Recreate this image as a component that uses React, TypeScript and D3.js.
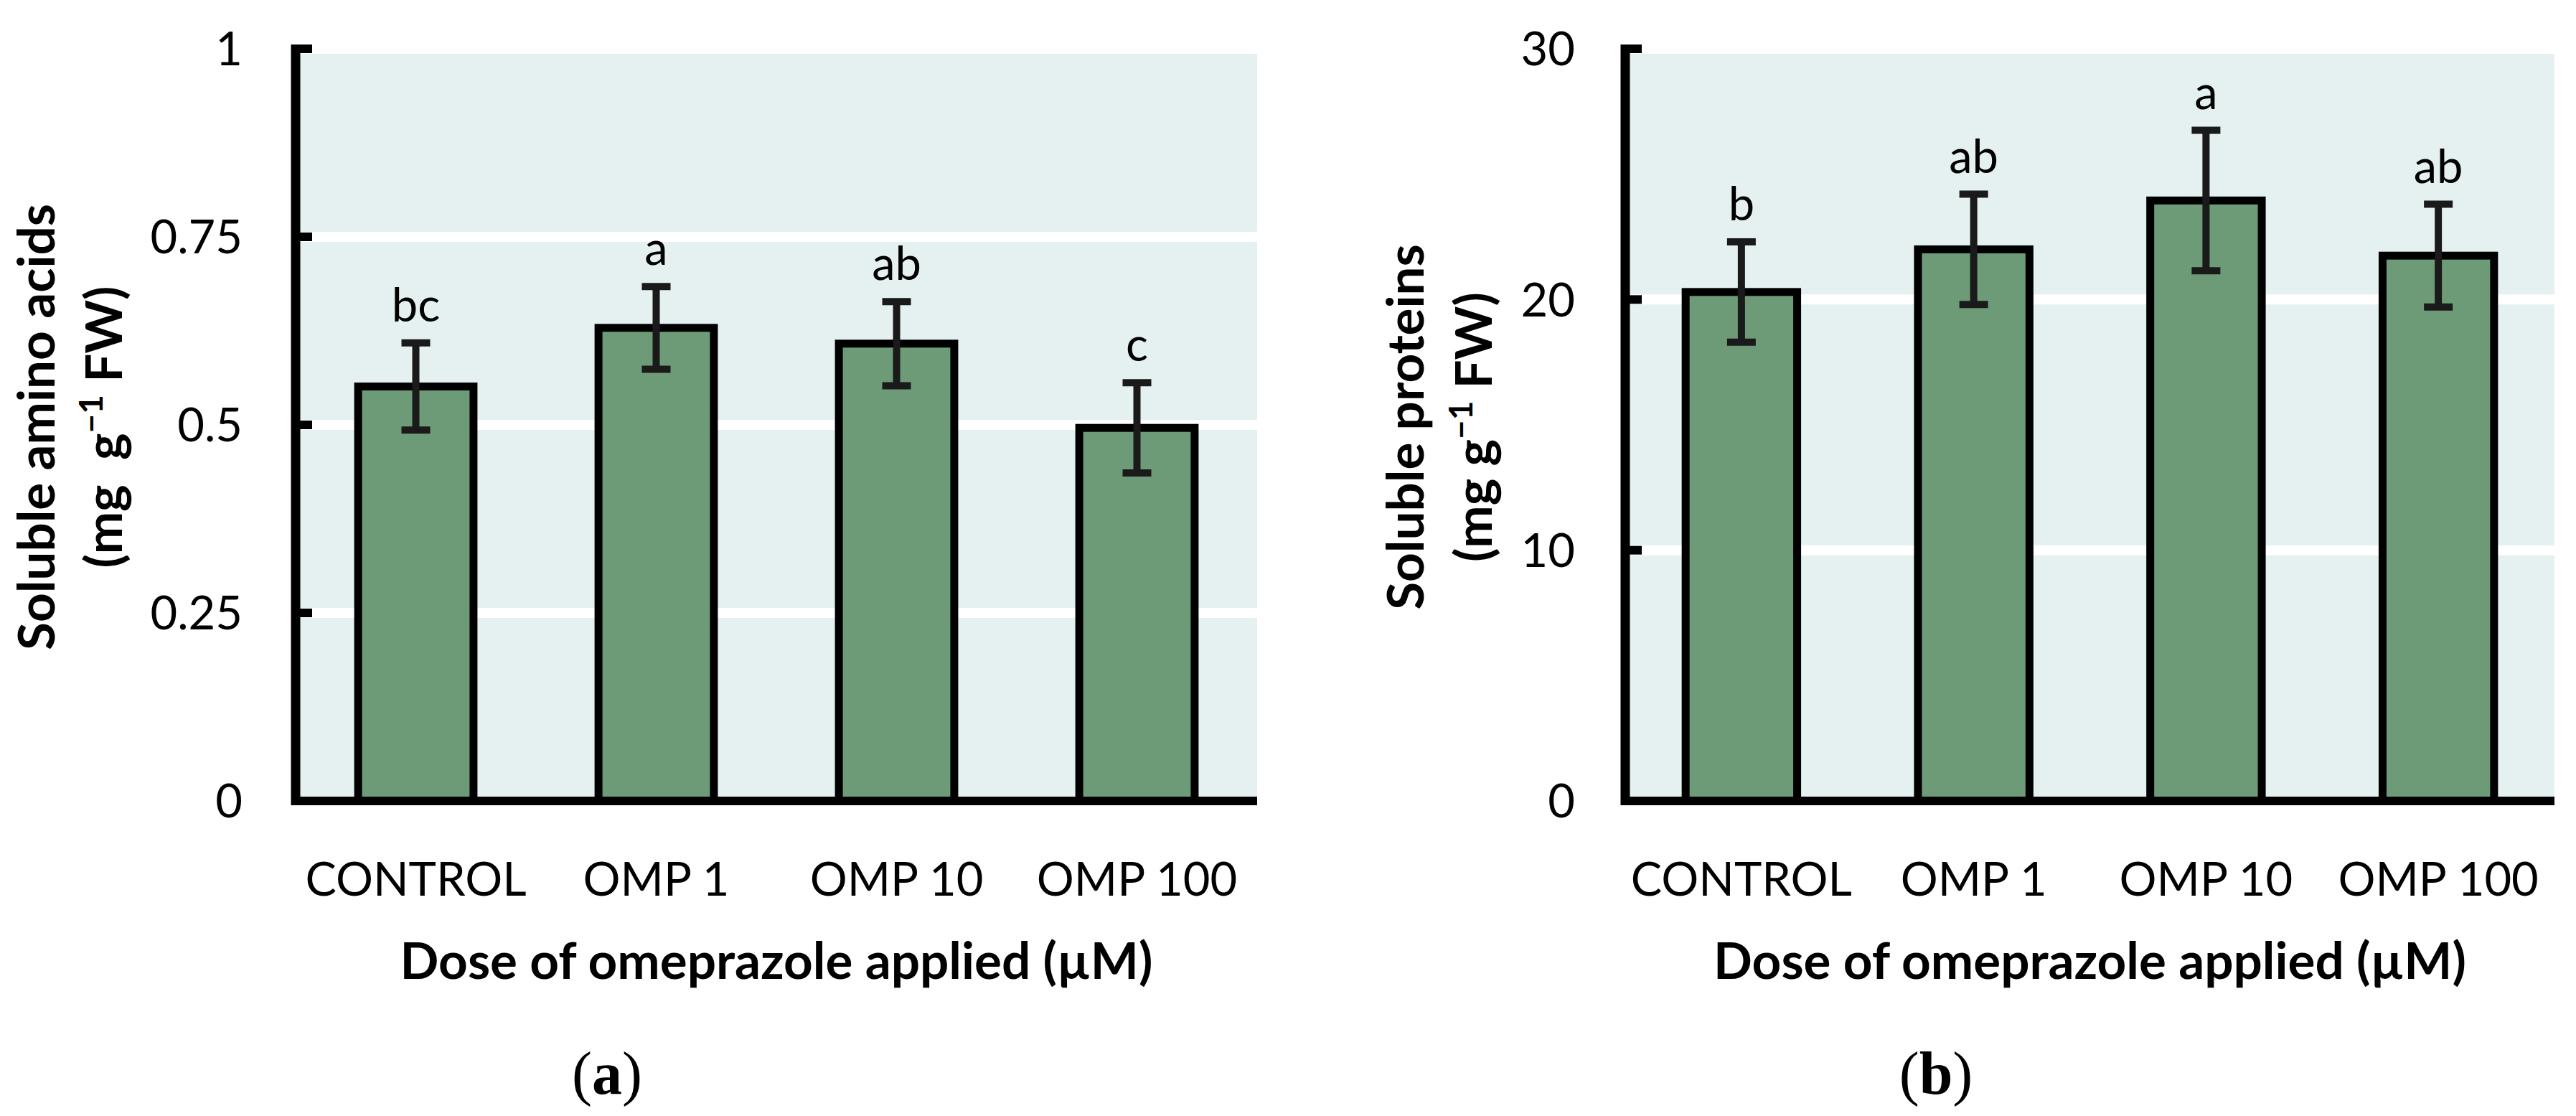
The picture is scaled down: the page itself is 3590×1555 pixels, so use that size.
import * as d3 from "d3";

const categories = ["CONTROL", "OMP 1", "OMP 10", "OMP 100"];

const aminoMeans = [0.551, 0.629, 0.608, 0.496];
const aminoErrors = [0.058, 0.055, 0.056, 0.06];
const aminoLetters = ["bc", "a", "ab", "c"];
const aminoTicks = [0, 0.25, 0.5, 0.75, 1];

const proteinMeans = [20.3, 22.0, 23.95, 21.75];
const proteinErrors = [2.0, 2.2, 2.8, 2.05];
const proteinLetters = ["b", "ab", "a", "ab"];
const proteinTicks = [0, 10, 20, 30];

const W = 3590;
const H = 1555;
const TOP = 68;
const BASE = 1116;
const SANS = "Lato, Carlito, Calibri, sans-serif";
const FS = 65;
const FS_BOLD = 71;
const BG = "#e5f1f1";
const BAR = "#6e9b77";
const INK = "#000";
const ERR = "#1a1a1a";

type PanelProps = {
  axisX: number;
  right: number;
  labelRight: number;
  title1X: number;
  title2X: number;
  captionX: number;
  means: number[];
  errors: number[];
  letters: string[];
  ticks: number[];
  title: string;
  unitGap: string;
  caption: string;
};

function Panel(p: PanelProps) {
  const x = d3
    .scaleBand<string>()
    .domain(categories)
    .range([p.axisX, p.right])
    .paddingInner(0.52)
    .paddingOuter(0.26);
  const y = d3
    .scaleLinear()
    .domain([0, d3.max(p.ticks) ?? 1])
    .range([BASE, TOP]);
  const bw = x.bandwidth();
  const midX = (p.axisX + p.right) / 2;
  const midY = 595;
  const capW = 40;

  return (
    <g>
      <rect x={p.axisX} y={TOP} width={p.right - p.axisX} height={BASE - TOP} fill={BG} />
      {p.ticks
        .filter((t) => t > 0)
        .map((t) => (
          <line key={"g" + t} x1={p.axisX} x2={p.right} y1={y(t)} y2={y(t)} stroke="#fff" strokeWidth={14} />
        ))}

      {categories.map((c, i) => (
        <rect
          key={"b" + c}
          x={x(c)}
          y={y(p.means[i])}
          width={bw}
          height={BASE - y(p.means[i])}
          fill={BAR}
          stroke={INK}
          strokeWidth={11}
        />
      ))}

      {categories.map((c, i) => {
        const cx = (x(c) ?? 0) + bw / 2;
        const hi = y(p.means[i] + p.errors[i]);
        const lo = y(p.means[i] - p.errors[i]);
        return (
          <g key={"e" + c} stroke={ERR} strokeWidth={10}>
            <line x1={cx} x2={cx} y1={hi} y2={lo} />
            <line x1={cx - capW / 2} x2={cx + capW / 2} y1={hi} y2={hi} />
            <line x1={cx - capW / 2} x2={cx + capW / 2} y1={lo} y2={lo} />
          </g>
        );
      })}

      {categories.map((c, i) => (
        <text
          key={"l" + c}
          x={(x(c) ?? 0) + bw / 2}
          y={y(p.means[i] + p.errors[i]) - 30}
          textAnchor="middle"
          fontFamily={SANS}
          fontSize={FS}
          fill={INK}
        >
          {p.letters[i]}
        </text>
      ))}

      {/* axes */}
      <line x1={p.axisX} x2={p.axisX} y1={TOP - 6} y2={BASE + 6} stroke={INK} strokeWidth={13} />
      <line x1={p.axisX - 6} x2={p.right} y1={BASE} y2={BASE} stroke={INK} strokeWidth={12} />
      {p.ticks.map((t) => (
        <line key={"t" + t} x1={p.axisX} x2={p.axisX + 23} y1={y(t)} y2={y(t)} stroke={INK} strokeWidth={12} />
      ))}
      {p.ticks.map((t) => (
        <text
          key={"tl" + t}
          x={p.labelRight}
          y={y(t)}
          dy="0.36em"
          textAnchor="end"
          fontFamily={SANS}
          fontSize={FS}
          fill={INK}
        >
          {String(t)}
        </text>
      ))}
      {categories.map((c) => (
        <text
          key={"c" + c}
          x={(x(c) ?? 0) + bw / 2}
          y={1248}
          textAnchor="middle"
          fontFamily={SANS}
          fontSize={FS}
          fill={INK}
        >
          {c}
        </text>
      ))}

      <text x={midX} y={1364} textAnchor="middle" fontFamily={SANS} fontSize={FS_BOLD} fontWeight="bold" fill={INK}>
        Dose of omeprazole applied (µM)
      </text>

      <text
        transform={`translate(${p.title1X},${midY}) rotate(-90)`}
        dy="0.36em"
        textAnchor="middle"
        fontFamily={SANS}
        fontSize={FS_BOLD}
        fontWeight="bold"
        fill={INK}
      >
        {p.title}
      </text>
      <text
        transform={`translate(${p.title2X},${midY}) rotate(-90)`}
        dy="0.36em"
        textAnchor="middle"
        fontFamily={SANS}
        fontSize={FS_BOLD}
        fontWeight="bold"
        fill={INK}
        style={{ whiteSpace: "pre" }}
      >
        {"(mg" + p.unitGap + "g"}
        <tspan fontSize={46} dy="-27">
          −1
        </tspan>
        <tspan dy="27"> FW)</tspan>
      </text>

      <text x={p.captionX} y={1524} textAnchor="middle" fontFamily="'Liberation Serif', serif" fontSize={84} fill={INK}>
        (<tspan fontWeight="bold">{p.caption}</tspan>)
      </text>
    </g>
  );
}

export default function App() {
  return (
    <div style={{ position: "absolute", left: 0, top: 0 }}>
      <svg width={W} height={H} viewBox={`0 0 ${W} ${H}`} style={{ display: "block", background: "#fff" }}>
        <Panel
          axisX={412}
          right={1752}
          labelRight={338}
          title1X={50}
          title2X={144}
          captionX={846}
          means={aminoMeans}
          errors={aminoErrors}
          letters={aminoLetters}
          ticks={aminoTicks}
          title="Soluble amino acids"
          unitGap={"  "}
          caption="a"
        />
        <Panel
          axisX={2265}
          right={3560}
          labelRight={2195}
          title1X={1958}
          title2X={2053}
          captionX={2698}
          means={proteinMeans}
          errors={proteinErrors}
          letters={proteinLetters}
          ticks={proteinTicks}
          title="Soluble proteins"
          unitGap={" "}
          caption="b"
        />
      </svg>
    </div>
  );
}
